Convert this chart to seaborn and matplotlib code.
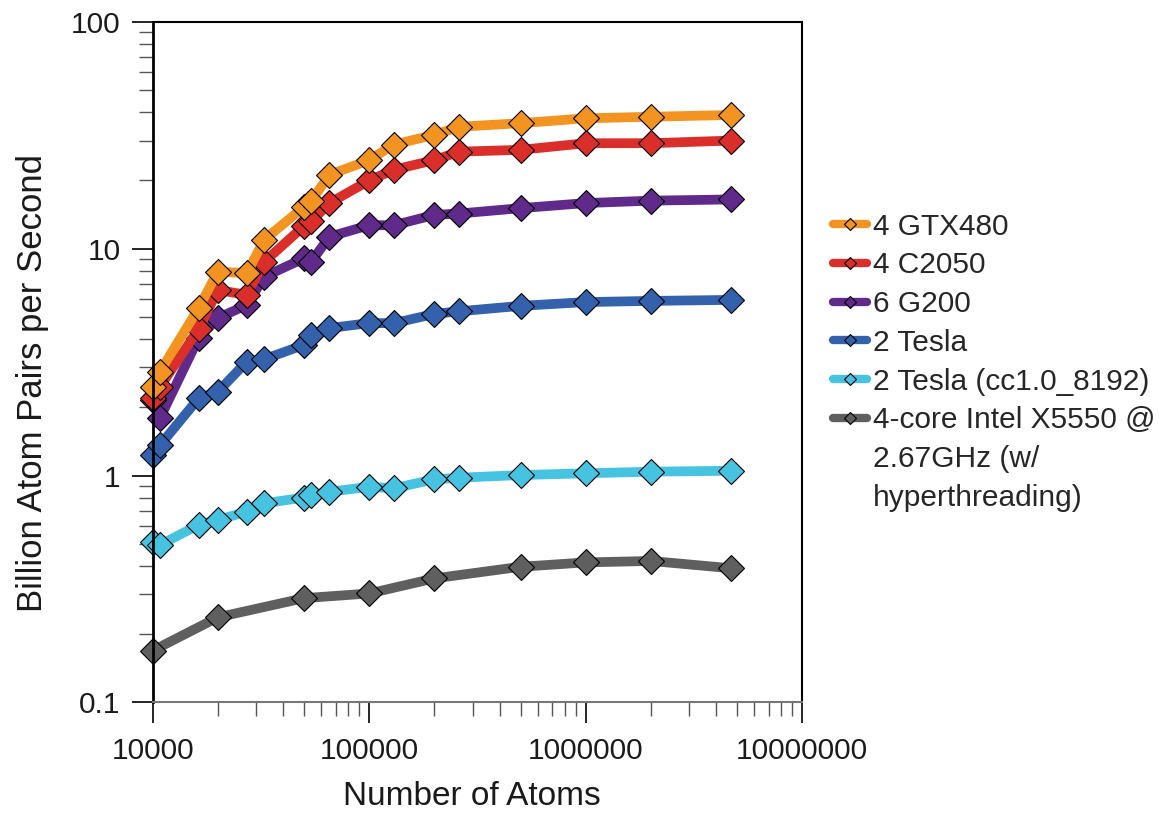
import matplotlib
matplotlib.use("Agg")
import matplotlib.pyplot as plt
import matplotlib.ticker as mticker
from matplotlib.lines import Line2D
import seaborn as sns
import pandas as pd

# atom counts used for the GPU runs
atoms = [10000, 10800, 16300, 20000, 27200, 32800, 50000, 54000, 65500,
         100000, 130000, 200000, 260000, 500000, 1000000, 2000000, 4700000]
# the CPU run only has a subset of sizes
atoms_cpu = [10000, 20000, 50000, 100000, 200000, 500000, 1000000, 2000000, 4700000]

# billion atom pairs per second
gtx480 = [2.46, 2.87, 5.47, 7.93, 7.80, 10.98, 15.3, 16.25, 21.2,
          24.6, 28.8, 31.8, 34.5, 35.8, 37.6, 38.2, 38.9]
c2050 = [2.19, 2.46, 4.42, 6.58, 6.26, 8.77, 12.6, 13.2, 15.9,
         20.0, 22.3, 24.6, 26.8, 27.3, 29.2, 29.2, 30.0]
g200 = [2.15, 1.79, 4.04, 4.95, 5.65, 7.53, 9.08, 8.77, 11.3,
        12.7, 12.7, 14.1, 14.3, 15.1, 15.9, 16.3, 16.5]
tesla = [1.23, 1.36, 2.19, 2.34, 3.18, 3.26, 3.77, 4.18, 4.47,
         4.70, 4.70, 5.16, 5.30, 5.60, 5.82, 5.89, 5.95]
tesla_cc10 = [0.511, 0.494, 0.606, 0.637, 0.693, 0.754, 0.80, 0.82, 0.848,
              0.892, 0.879, 0.962, 0.978, 1.005, 1.023, 1.04, 1.05]
cpu = [0.169, 0.237, 0.288, 0.302, 0.352, 0.396, 0.414, 0.42, 0.39]

labels = ["4 GTX480", "4 C2050", "6 G200", "2 Tesla", "2 Tesla (cc1.0_8192)",
          "4-core Intel X5550 @\n2.67GHz (w/\nhyperthreading)"]
colors = ["#F39321", "#D92E2A", "#5F2A89", "#3461AC", "#46C3E1", "#5F5F5F"]

series = [(atoms, gtx480), (atoms, c2050), (atoms, g200), (atoms, tesla),
          (atoms, tesla_cc10), (atoms_cpu, cpu)]

frames = []
for lab, (xs, ys) in zip(labels, series):
    frames.append(pd.DataFrame({"atoms": xs, "rate": ys, "device": lab}))
df = pd.concat(frames, ignore_index=True)

sns.set_theme(style="white")
plt.rcParams['font.family'] = ['Liberation Sans', 'DejaVu Sans']

fig, ax = plt.subplots(figsize=(11.69, 8.14), dpi=100)
fig.subplots_adjust(left=0.1306, right=0.6863, bottom=0.1372, top=0.973)

# draw the CPU line first so the orange one ends up on top
sns.lineplot(data=df, x="atoms", y="rate", hue="device", hue_order=labels[::-1],
             palette=dict(zip(labels, colors)), style="device",
             markers={lab: "D" for lab in labels}, dashes=False,
             estimator=None, sort=False, linewidth=7, markersize=13.5,
             markeredgecolor="black", markeredgewidth=0.8, clip_on=False,
             legend=False, ax=ax)

ax.set_xscale("log")
ax.set_yscale("log")
ax.set_xlim(1e4, 1e7)
ax.set_ylim(0.1, 100)

ax.xaxis.set_major_formatter(mticker.FuncFormatter(lambda v, p: f"{int(round(v))}"))
ax.yaxis.set_major_formatter(mticker.FuncFormatter(lambda v, p: f"{v:g}"))
ax.xaxis.set_minor_formatter(mticker.NullFormatter())
ax.yaxis.set_minor_formatter(mticker.NullFormatter())

ax.tick_params(which="both", bottom=True, left=True, direction="out")
ax.tick_params(which="major", length=15, width=1.2, color="black", labelsize=21.5,
               labelcolor="#1a1a1a")
ax.tick_params(which="minor", length=10, width=1.0, color="#555555")
ax.tick_params(axis="x", which="major", pad=10)
ax.tick_params(axis="y", which="major", pad=8)

for side in ["left", "top", "right"]:
    ax.spines[side].set_color("black")
    ax.spines[side].set_linewidth(1.5)
ax.spines["left"].set_linewidth(2)
ax.spines["bottom"].set_color("#777777")
ax.spines["bottom"].set_linewidth(1.5)

ax.set_xlabel("Number of Atoms", fontsize=24, color="#1a1a1a")
ax.set_ylabel("Billion Atom Pairs per Second", fontsize=25, color="#1a1a1a")
ax.xaxis.set_label_coords(0.492, -0.115)
ax.yaxis.set_label_coords(-0.16, 0.47)

# legend with smaller diamonds than the plot markers; the long CPU label is
# split so its handle sits on the first line
handles = [Line2D([0], [0], color=c, lw=6, marker="D", markersize=6.5,
                  markerfacecolor=c, markeredgecolor="black", markeredgewidth=0.8)
           for c in colors]
leg_labels = labels[:-1] + labels[-1].split("\n")[:1]
blank = Line2D([0], [0], color="none", lw=0)
handles += [blank, blank]
leg_labels += labels[-1].split("\n")[1:]
fig.legend(handles, leg_labels, loc="upper left", bbox_to_anchor=(0.7126, 0.7389),
           frameon=False, fontsize=21.5, handlelength=1.15, handletextpad=0.2,
           labelspacing=0.36, borderpad=0, borderaxespad=0)

plt.savefig("out.png", dpi=100)
